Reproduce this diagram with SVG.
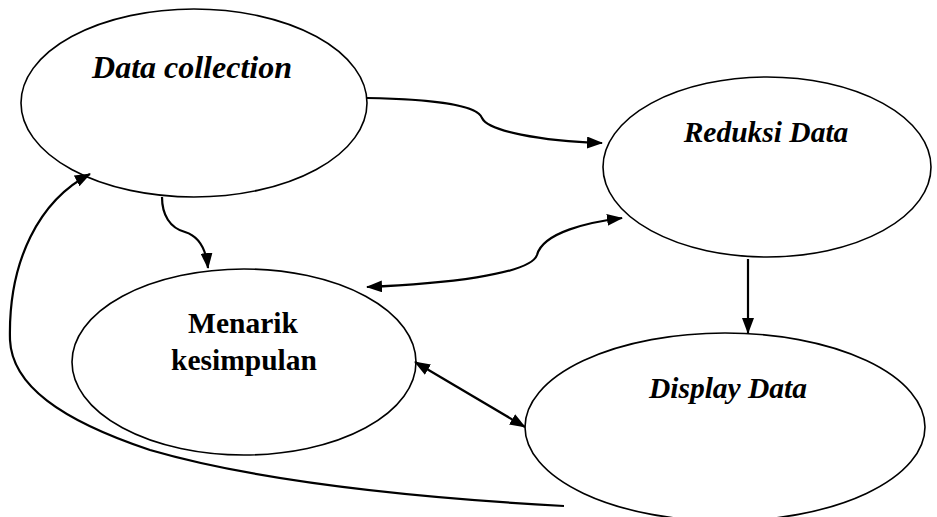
<svg xmlns="http://www.w3.org/2000/svg" width="937" height="517" viewBox="0 0 937 517">
<style>
.node{fill:#fff;stroke:#000;stroke-width:1.6}
.t{font-family:'Liberation Serif','Times New Roman',serif;font-size:29.5px;font-weight:bold;fill:#000;text-anchor:middle}
.i{font-style:italic}
.c{fill:none;stroke:#000;stroke-width:2.2}
</style>
<defs>
<marker id="ah" viewBox="0 0 16 12" refX="15" refY="6" markerWidth="16" markerHeight="12" markerUnits="userSpaceOnUse" orient="auto-start-reverse">
<path d="M0,0 L16,6 L0,12 Z" fill="#000"/>
</marker>
</defs>
<rect width="937" height="517" fill="#fff"/>
<g id="data-collection">
<ellipse class="node" cx="194" cy="103" rx="173" ry="94"/>
<text class="t i" x="192" y="78" style="font-size:32px">Data collection</text>
</g>
<g id="reduksi-data">
<ellipse class="node" cx="767" cy="167" rx="164" ry="90"/>
<text class="t i" x="766" y="142">Reduksi Data</text>
</g>
<g id="menarik-kesimpulan">
<ellipse class="node" cx="244" cy="362" rx="172" ry="93"/>
<text class="t" x="243" y="333">Menarik</text>
<text class="t" x="244" y="370">kesimpulan</text>
</g>
<g id="display-data">
<ellipse class="node" cx="725" cy="427" rx="200" ry="94"/>
<text class="t i" x="728" y="398">Display Data</text>
</g>
<g id="connectors">
<path class="c" d="M367,98 C430,99 478,105 482,118 C488,131 540,141 602,143" marker-end="url(#ah)"/>
<path class="c" d="M367,287 C440,284 530,275 537,255 C543,232 590,222 622,218" marker-start="url(#ah)" marker-end="url(#ah)"/>
<path class="c" d="M162,197 C162,215 170,228 185,232 C198,236 206,248 208,268" marker-end="url(#ah)"/>
<path class="c" d="M748,259 L748,333" marker-end="url(#ah)"/>
<path class="c" d="M415,362 L525,427" marker-start="url(#ah)" marker-end="url(#ah)"/>
<path class="c" d="M564,506 C420,498 260,482 150,450 C60,420 12,385 10,340 C8,260 40,200 90,174" marker-end="url(#ah)"/>
</g>
</svg>
